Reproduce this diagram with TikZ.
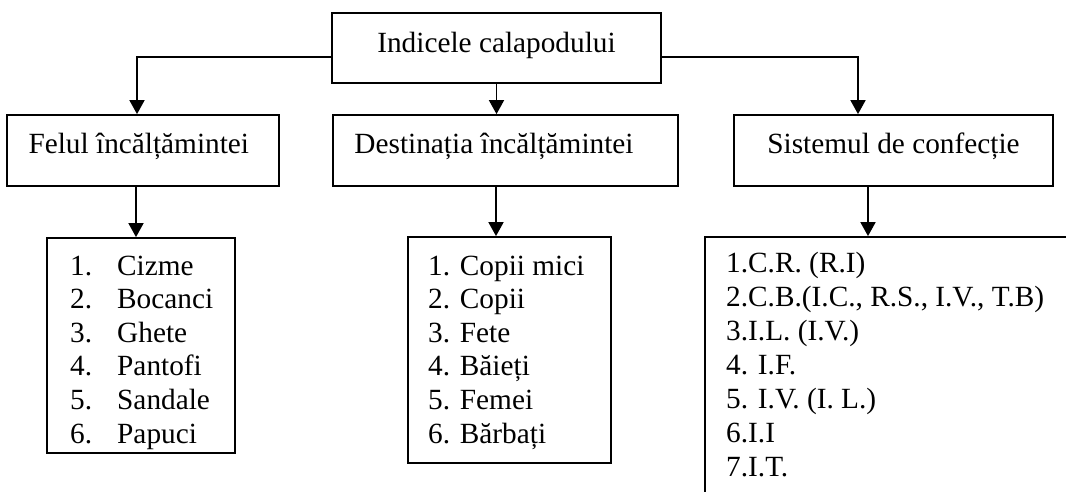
\documentclass[tikz,border=0pt]{standalone}
\usepackage{fontspec}
\setmainfont{Liberation Serif}
\usetikzlibrary{arrows.meta}
\begin{document}
\begin{tikzpicture}[x=1pt,y=-1pt,
  box/.style={draw, line width=1.8pt, rectangle, inner sep=0pt},
  arr/.style={draw, line width=1.8pt, -{Triangle[width=15pt,length=14pt]}},
  txt/.style={font=\fontsize{29.3pt}{33.6pt}\selectfont, inner sep=0pt, anchor=base},
  ltxt/.style={txt, anchor=base west}]
\useasboundingbox (0,0) rectangle (1066,491);
\clip (0,0) rectangle (1066,491);
% level 0
\node[box, minimum width=329pt, minimum height=70pt] (top) at (496.5,48) {};
\node[txt] (topt) at (496.5,52.5) {Indicele calapodului};
% level 1
\node[box, minimum width=272pt, minimum height=71pt] (felul) at (143,150.5) {};
\node[box, minimum width=345pt, minimum height=71pt] (dest) at (505.5,150.5) {};
\node[box, minimum width=319pt, minimum height=71pt] (sist) at (893.5,150.5) {};
\node[txt] (felult) at (138.8,153) {Felul încălțămintei};
\node[txt] (destt) at (494,153) {Destinația încălțămintei};
\node[txt] (sistt) at (893.5,153) {Sistemul de confecție};
% level 2
\node[box, minimum width=188pt, minimum height=215pt] (listL) at (141,345.5) {};
\node[box, minimum width=203pt, minimum height=226pt] (listM) at (509.5,350) {};
\node[box, minimum width=385pt, minimum height=283pt] (listR) at (897.5,378.5) {};
% left list
\foreach \n/\t [count=\i from 0] in {1./Cizme,2./Bocanci,3./Ghete,4./Pantofi,5./Sandale,6./Papuci}{
  \node[ltxt] (ln\i) at (70,275+33.6*\i) {\n};
  \node[ltxt] (lt\i) at (117,275+33.6*\i) {\t};
}
% middle list
\foreach \t [count=\i from 0] in {1. Copii mici,2. Copii,3. Fete,4. Băieți,5. Femei,6. Bărbați}{
  \node[ltxt] (m\i) at (428,275+33.6*\i) {\t};
}
% right list
\node[ltxt] (r0) at (726,272) {1.C.R. (R.I)};
\node[ltxt] (r1) at (726,306) {2.C.B.(I.C., R.S., I.V., T.B)};
\node[ltxt] (r2) at (726,340) {3.I.L. (I.V.)};
\node[ltxt] (r3) at (726,374) {4. I.F.};
\node[ltxt] (r4) at (726,408) {5. I.V. (I. L.)};
\node[ltxt] (r5) at (726,442) {6.I.I};
\node[ltxt] (r6) at (726,476) {7.I.T.};
% connectors
\draw[arr] ([yshift=-9pt]top.west) -| ([xshift=-6pt]felul.north);
\draw[arr] ([yshift=-9pt]top.east) -| ([xshift=-35.5pt]sist.north);
\draw[arr] (top.south) -- (top.south |- dest.north);
\draw[arr] ([xshift=-7pt]felul.south) -- ([xshift=-7pt]felul.south |- listL.north);
\draw[arr] ([xshift=-9.5pt]dest.south) -- ([xshift=-9.5pt]dest.south |- listM.north);
\draw[arr] ([xshift=-25.5pt]sist.south) -- ([xshift=-25.5pt]sist.south |- listR.north);
\end{tikzpicture}
\end{document}
